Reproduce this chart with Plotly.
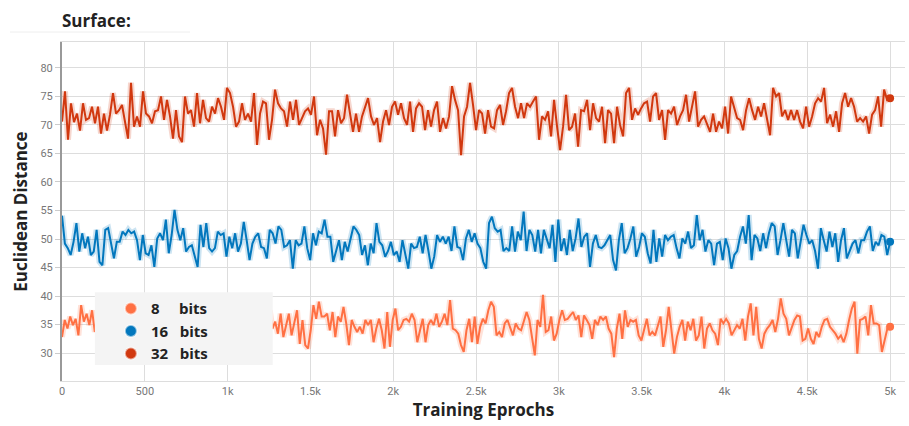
import numpy as np
import plotly.graph_objects as go

series_names = ["8", "16", "32"]
series_colors = ["#FF7043", "#0277BD", "#D1380F"]

bits8 = [
    32.8, 35.8, 34.3, 36.4, 34.9, 36.0, 33.1, 38.4, 35.5, 36.9, 34.9, 37.5, 33.7, 35.8,
    34.2, 36.1, 33.5, 35.0, 37.2, 34.4, 32.9, 35.6, 36.3, 34.1, 33.2, 35.9, 37.0, 34.6, 35.3, 33.6,
    36.5, 34.0, 35.2, 38.0, 34.7, 33.0, 35.4, 36.2, 34.3, 32.6, 35.8, 36.8, 34.5, 33.8, 35.1, 37.4,
    34.2, 33.4, 36.0, 35.0, 32.8, 34.9, 36.6, 35.2, 33.7, 35.5, 37.1, 34.4, 33.1, 35.7, 36.4, 34.0,
    32.7, 35.3, 36.9, 34.8, 33.5, 35.9, 34.6, 36.2,
    36.4, 34.3, 37.2, 33.7, 36.4, 31.9, 37.5, 34.3, 35.5, 33.4, 36.9, 32.8, 34.6, 36.9, 33.1, 35.2,
    37.5, 31.6, 35.8, 31.4, 30.8, 34.0, 38.4, 36.0, 39.0, 36.4,
    36.4, 36.9, 34.0, 37.2, 32.8, 36.4, 35.5, 38.1, 35.2, 31.4, 35.8, 34.6, 33.7, 34.6, 33.4, 35.8,
    34.9, 35.8, 31.9, 34.3, 36.0, 34.0, 30.8, 37.2, 31.1, 35.8, 37.8, 34.0, 34.6, 35.8, 36.0, 35.5,
    36.9, 35.8, 31.9, 34.0, 36.0, 31.9, 34.9, 35.8, 34.9, 36.9, 34.6, 35.5, 36.9, 34.9, 39.3, 34.3,
    34.0, 33.4, 31.4, 30.2, 34.0, 36.0, 31.9, 36.4, 31.6, 34.6, 36.0, 35.2, 37.5, 39.0, 38.1, 33.1,
    33.7, 32.8, 35.2, 35.8, 34.3, 33.1, 35.2, 34.3, 34.0, 35.5, 37.2, 35.8, 32.8, 29.6, 35.8, 34.6,
    40.2, 33.7, 34.0, 36.4, 32.2, 33.4, 35.8, 37.5, 35.8, 36.0, 36.6, 37.2, 35.8, 36.6, 32.8, 36.6,
    35.8, 34.9, 32.5, 35.8, 34.9, 36.4, 35.8,
    36.4, 34.3, 33.4, 29.3, 34.3, 36.9, 32.5, 37.5, 34.6, 35.8, 35.5, 35.8, 33.1, 32.2, 34.3, 36.0,
    33.1, 33.7, 33.1, 34.6, 36.4, 31.1, 34.0, 38.1, 33.4, 29.9, 32.8, 34.6, 35.8, 32.2, 35.5, 34.0,
    36.0, 32.2, 33.1, 36.4, 30.8, 34.3, 35.2, 34.0, 33.4, 31.4, 36.0, 35.2, 36.0, 35.2, 33.1, 34.0,
    34.9, 34.3, 36.0, 32.2, 36.4, 38.7, 33.1, 38.1, 32.5, 30.8, 33.4, 34.3, 34.9, 35.8, 33.7, 36.0,
    39.6, 36.9, 36.0, 33.1, 34.6, 35.8, 36.6, 36.4, 32.2, 32.5, 34.3, 32.5, 31.6, 33.7, 32.8, 34.6,
    35.8, 36.0, 34.6, 34.0, 33.4, 32.5, 33.1, 31.9, 33.4, 35.8, 37.8, 39.0, 29.9, 35.8, 36.0, 36.4,
    33.1, 38.4, 35.2, 35.2, 34.9, 30.2, 32.5, 34.3, 34.6,
]

bits16 = [
    54.1, 49.2, 48.4, 47.2, 49.5, 52.8, 47.8, 51.0, 48.4, 50.4, 47.2, 47.8, 51.6, 46.0, 45.4, 51.6,
    51.9, 49.2, 46.6, 49.5, 49.5, 51.3, 50.7, 51.6, 51.0, 51.3, 49.8, 46.3, 50.7, 47.5, 47.2, 48.9,
    45.1, 50.1, 51.0, 49.8, 53.4, 47.5, 50.7, 55.1, 51.6, 49.8, 51.9, 47.8, 48.6, 48.9, 46.9, 45.1,
    52.5, 48.6, 52.8, 48.4, 47.8, 48.4, 51.3, 50.7, 51.0, 46.9, 50.4, 48.4, 51.0, 47.8, 49.2, 53.0,
    49.8, 46.3, 49.2, 50.4, 51.0, 48.6, 48.4, 46.6, 51.6, 51.0, 49.2, 52.2, 51.6, 48.6, 48.9, 49.8,
    44.8, 49.8, 48.9, 49.2, 52.2, 48.4, 46.3, 51.0, 48.9, 51.3, 51.0, 53.4, 50.4,
    50.4, 46.0, 47.8, 49.8, 46.3, 49.5, 47.8, 49.8, 52.2, 51.6, 50.7, 47.2, 48.9, 45.4, 49.2, 47.5,
    52.8, 49.5, 48.9, 46.9, 47.9, 49.5, 47.2, 47.8, 46.0, 49.8, 47.2, 44.8, 49.2, 48.4, 48.6, 50.4,
    47.5, 50.7, 47.9, 44.8, 46.9, 50.7, 49.5, 50.4, 49.2, 50.4, 47.9, 52.2, 48.6, 48.4, 46.3, 50.1,
    51.6, 49.5, 51.0, 49.2, 48.4, 46.0, 44.8, 52.8, 53.9, 51.9, 51.3, 51.6, 47.9, 48.4, 47.9, 52.2,
    47.8, 51.3, 49.8, 54.8, 47.9, 51.6, 50.7, 47.8, 51.6, 47.5, 51.6, 49.8, 48.4, 52.5, 46.0, 53.4,
    47.9, 50.1, 47.2, 51.6, 47.9, 50.1, 53.6, 48.6, 50.4, 51.0, 45.1, 49.2, 50.7, 48.6,
    48.4, 48.9, 49.8, 50.7, 46.3, 44.5, 49.8, 52.8, 47.5, 48.4, 50.1, 52.2, 46.9, 48.6, 51.0, 50.4,
    47.5, 45.7, 51.6, 46.0, 50.1, 46.9, 50.7, 49.8, 50.4, 50.7, 48.4, 46.6, 50.1, 49.2, 51.3, 48.4,
    48.9, 54.2, 49.8, 51.6, 47.8, 49.8, 49.2, 45.4, 49.2, 49.5, 46.3, 50.1, 48.4, 44.8, 47.2, 47.9,
    50.4, 52.2, 49.2, 54.2, 46.3, 50.7, 50.1, 47.9, 51.0, 48.4, 51.0, 52.8, 52.2, 47.2, 49.8, 52.8,
    49.8, 46.9, 51.6, 51.0, 46.6, 49.8, 52.5, 50.7, 49.2, 49.8, 47.9, 44.8, 51.9, 49.8, 47.8, 51.3,
    48.6, 51.0, 46.0, 49.8, 51.9, 46.6, 47.9, 49.2, 49.8, 47.5, 49.8, 49.8, 51.3, 52.2, 47.9, 49.5,
    48.9, 50.7, 50.4, 47.2, 49.5,
]

bits32 = [
    70.6, 75.9, 67.4, 73.8, 70.5, 72.0, 69.0, 73.8, 70.9, 71.2, 73.2, 70.3, 73.2, 68.5, 72.0, 69.0,
    71.8, 75.6, 72.0, 72.6, 73.5, 70.3, 67.6, 77.4, 69.7, 71.5, 69.7, 75.9, 72.0, 71.5, 70.3, 72.4,
    72.6, 75.0, 70.9, 74.4, 71.5, 67.6, 72.6, 68.0, 67.0, 75.0, 72.0, 72.6, 69.7, 75.6, 70.3, 74.4,
    71.2, 70.6, 73.2, 72.0, 74.7, 73.2, 70.9, 76.5, 75.6, 73.2, 69.7, 70.6, 73.8, 70.9, 72.0, 70.6,
    75.6, 66.5, 72.0, 74.1, 73.8, 67.4, 70.9, 76.2, 73.8, 72.9, 72.4, 69.7, 74.1, 70.9, 74.4, 70.0,
    71.2, 72.4, 72.9, 71.8, 75.0, 68.2, 70.9, 69.4, 64.8,
    72.4, 72.4, 68.0, 72.6, 70.3, 71.2, 75.3, 72.0, 68.8, 72.0, 68.8, 71.5, 73.2, 74.7, 71.5, 70.0,
    71.2, 67.0, 70.6, 72.6, 70.0, 73.2, 74.1, 71.8, 73.8, 71.2, 70.0, 74.1, 68.8, 72.9, 73.8, 73.2,
    69.1, 72.6, 69.7, 72.6, 74.1, 68.8, 71.2, 69.4, 71.5, 76.8, 74.4, 72.6, 64.7, 71.5, 73.2, 77.4,
    73.5, 69.1, 72.6, 72.0, 68.5, 72.6, 69.7, 69.4, 72.6, 73.5, 70.0, 72.4, 75.6, 76.5, 73.2, 71.2,
    73.8, 71.2, 73.8, 73.2, 74.1, 75.0, 67.4, 71.5, 70.9, 72.4, 68.0, 74.4, 69.7, 65.6, 69.7, 75.3,
    69.1, 69.7, 72.0, 66.2, 72.6, 72.4, 74.4, 69.1, 73.8, 71.2,
    70.6, 73.2, 66.8, 72.6, 72.0, 66.8, 73.2, 70.0, 68.0, 75.6, 76.5, 70.9, 72.9, 71.8, 72.9, 73.8,
    74.1, 70.6, 75.0, 75.6, 70.9, 72.6, 67.4, 72.6, 72.0, 73.2, 70.0, 71.5, 72.6, 75.3, 70.6, 73.5,
    75.9, 69.7, 70.9, 71.5, 70.3, 68.8, 72.0, 68.8, 70.6, 69.4, 73.2, 68.5, 75.0, 73.2, 71.2, 70.9,
    69.1, 72.6, 74.7, 72.6, 70.9, 73.2, 71.5, 73.8, 70.9, 68.2, 76.5, 75.0, 75.6, 71.5, 72.6, 70.9,
    72.6, 70.9, 72.6, 70.6, 69.4, 73.2, 69.7, 71.5, 73.8, 74.7, 74.1, 76.5, 70.3, 71.8, 69.7, 72.4,
    68.8, 73.8, 75.6, 73.2, 74.7, 73.2, 70.6, 71.2, 70.6, 71.5, 68.5, 71.8, 72.6, 75.0, 69.7, 76.2,
    74.4, 74.7,
]

series_values = [bits8, bits16, bits32]
max_epoch = 5000
x_ticks = [0, 500, 1000, 1500, 2000, 2500, 3000, 3500, 4000, 4500, 5000]
y_ticks = [30, 35, 40, 45, 50, 55, 60, 65, 70, 75, 80]

def rgba(hex_color, a):
    h = hex_color.lstrip("#")
    r, g, b = int(h[0:2], 16), int(h[2:4], 16), int(h[4:6], 16)
    return f"rgba({r},{g},{b},{a})"

fig = go.Figure()

# light bands behind
for vals, col in zip(series_values, series_colors):
    xs = np.linspace(0, max_epoch, len(vals))
    fig.add_trace(go.Scatter(x=xs, y=vals, mode="lines",
                             line=dict(color=rgba(col, 0.2), width=6),
                             hoverinfo="skip", showlegend=False))

# main lines
for vals, col, name in zip(series_values, series_colors, series_names):
    xs = np.linspace(0, max_epoch, len(vals))
    fig.add_trace(go.Scatter(x=xs, y=vals, mode="lines",
                             line=dict(color=col, width=2),
                             name=name, showlegend=False))
    fig.add_trace(go.Scatter(x=[xs[-1]], y=[vals[-1]], mode="markers",
                             marker=dict(color=col, size=8),
                             showlegend=False, hoverinfo="skip"))

# legend entries
nb = "\u00a0"
labels = ["8" + nb * 5 + "bits", "16" + nb * 3 + "bits", "32" + nb * 3 + "bits"]
for lab, col in zip(labels, series_colors):
    fig.add_trace(go.Scatter(x=[None], y=[None], mode="markers", name=lab,
                             marker=dict(color=col, size=16,
                                         line=dict(color="rgba(255,255,255,0.55)", width=1.5))))

fig.update_layout(
    width=909, height=426,
    margin=dict(l=62, r=4, t=42, b=45),
    paper_bgcolor="white", plot_bgcolor="white",
    font=dict(family="Open Sans, sans-serif"),
    title=dict(text="<b>Surface:</b>", x=62 / 909, xanchor="left", y=0.95, yanchor="middle",
               font=dict(size=17, color="#222222", family="Open Sans, sans-serif")),
    showlegend=True,
    legend=dict(x=0.058, y=0.262, xanchor="left", yanchor="top",
                bgcolor="rgba(0,0,0,0)", borderwidth=0,
                font=dict(size=15, color="#222222", family="Open Sans, sans-serif", weight="bold"),
                tracegroupgap=2, itemsizing="constant"),
    shapes=[
        dict(type="rect", xref="paper", yref="paper", x0=0.039, x1=0.250, y0=0.047, y1=0.262,
             fillcolor="#f4f4f4", line=dict(width=0), layer="above"),
        dict(type="line", xref="paper", yref="paper", x0=-52 / 843, x1=128 / 843,
             y0=(381 - 32) / 339, y1=(381 - 32) / 339,
             line=dict(color="#eeeeee", width=1)),
    ],
)

fig.update_xaxes(
    range=[0, 5090], tickvals=x_ticks, tickformat="~s",
    showgrid=True, gridcolor="#dddddd", gridwidth=1,
    showline=True, linecolor="#dddddd", linewidth=1, mirror=True,
    ticks="", tickfont=dict(size=11, color="#777777", family="Roboto"),
    zeroline=False,
    title=dict(text="<b>Training Eprochs</b>", standoff=6,
               font=dict(size=17, color="#222222", family="Open Sans, sans-serif")),
)
fig.update_yaxes(
    range=[25.1, 84.55], tickvals=y_ticks,
    showgrid=True, gridcolor="#dddddd", gridwidth=1,
    showline=True, linecolor="#999999", linewidth=2,
    ticks="outside", ticklen=5, tickcolor="#cccccc",
    tickfont=dict(size=11, color="#777777", family="Roboto"),
    zeroline=False,
    title=dict(text="<b>Euclidean Distance</b>", standoff=8,
               font=dict(size=17, color="#222222", family="Open Sans, sans-serif")),
)

fig.write_html("out.html", config={"displayModeBar": False},
               post_script="document.body.style.margin='0';document.body.style.padding='0';")
